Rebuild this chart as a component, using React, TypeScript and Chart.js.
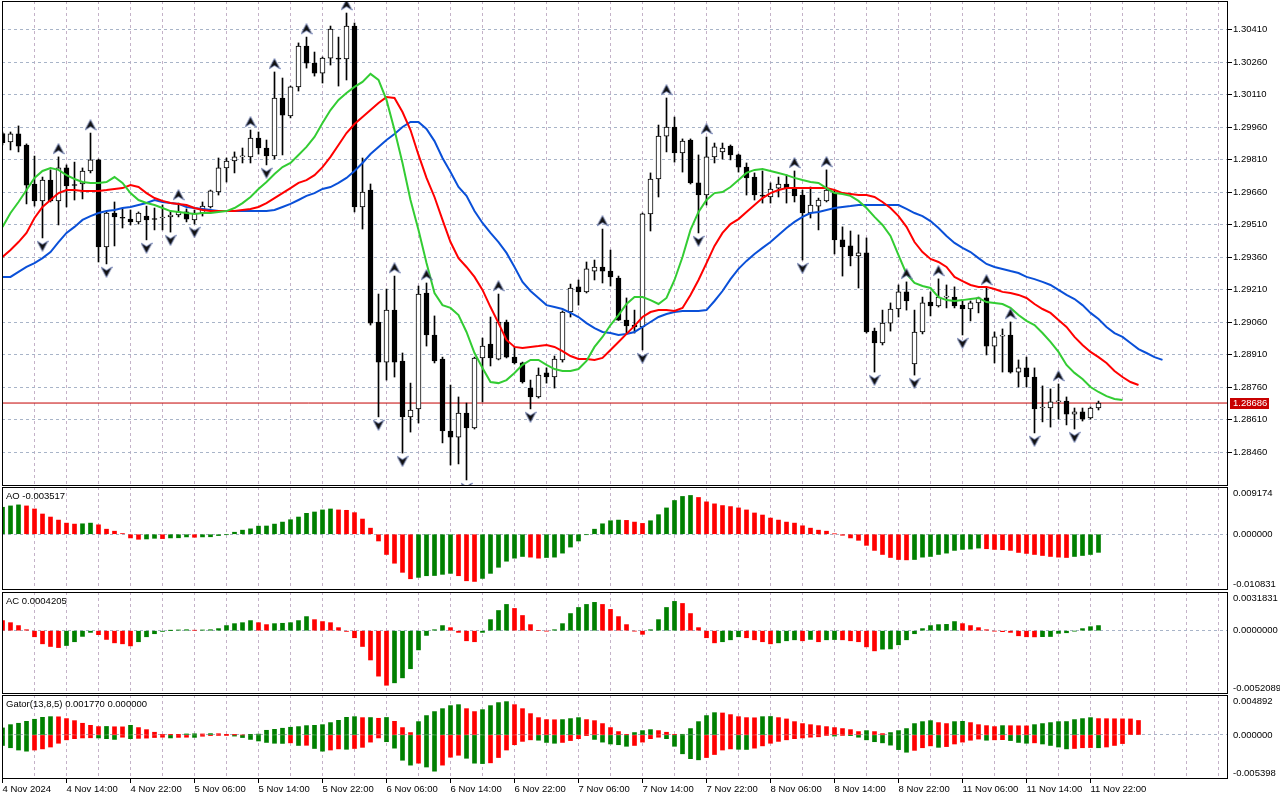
import React, { useEffect, useRef } from "react";
import { Chart, registerables } from "chart.js";

Chart.register(...registerables);

// ---------- DATA (GBPUSD H1, 4 Nov 06:00 .. 11 Nov 23:00) ----------
const timeLabels = [
  "4 Nov 2024", "4 Nov 14:00", "4 Nov 22:00", "5 Nov 06:00", "5 Nov 14:00", "5 Nov 22:00",
  "6 Nov 06:00", "6 Nov 14:00", "6 Nov 22:00", "7 Nov 06:00", "7 Nov 14:00", "7 Nov 22:00",
  "8 Nov 06:00", "8 Nov 14:00", "8 Nov 22:00", "11 Nov 06:00", "11 Nov 14:00", "11 Nov 22:00",
];

const priceTicks = [
  1.2846, 1.2861, 1.2876, 1.2891, 1.2906, 1.2921, 1.2936, 1.2951, 1.2966, 1.2981, 1.2996, 1.3011, 1.3026, 1.3041,
];
const priceRange = [1.2830308, 1.3054154];

const open = [
  1.29930, 1.29891, 1.29928, 1.29877, 1.29697, 1.29619, 1.29715, 1.29619, 1.29771, 1.29692,
  1.29697, 1.29757, 1.29808, 1.29406, 1.29563, 1.29540, 1.29535, 1.29522, 1.29549, 1.29535,
  1.29540, 1.29545, 1.29554, 1.29568, 1.29531, 1.29563, 1.29591, 1.29660, 1.29771, 1.29803,
  1.29822, 1.29822, 1.29909, 1.29863, 1.29826, 1.30094, 1.30011, 1.30145, 1.30334, 1.30255,
  1.30209, 1.30278, 1.30274, 1.30274, 1.30426, 1.29591, 1.29669, 1.29060, 1.28875, 1.29115,
  1.28880, 1.28622, 1.28659, 1.29194, 1.29000, 1.28889, 1.28557, 1.28529, 1.28640, 1.28571,
  1.28894, 1.28958, 1.28889, 1.29060, 1.28898, 1.28871, 1.28755, 1.28714, 1.28825, 1.28806,
  1.28885, 1.29106, 1.29222, 1.29199, 1.29295, 1.29314, 1.29295, 1.29263, 1.29069, 1.29046,
  1.29037, 1.29559, 1.29720, 1.29918, 1.29960, 1.29840, 1.29900, 1.29702, 1.29646, 1.29822,
  1.29845, 1.29872, 1.29831, 1.29775, 1.29729, 1.29642, 1.29637, 1.29678, 1.29697, 1.29678,
  1.29646, 1.29563, 1.29595, 1.29619, 1.29655, 1.29439, 1.29411, 1.29365, 1.29379, 1.29018,
  1.28963, 1.29055, 1.29120, 1.29199, 1.28866, 1.29014, 1.29152, 1.29134, 1.29175, 1.29175,
  1.29138, 1.29120, 1.29148, 1.29171, 1.28949, 1.28995, 1.29000, 1.28829, 1.28848, 1.28806,
  1.28663, 1.28663, 1.28691, 1.28695, 1.28635, 1.28645, 1.28617, 1.28663,
];
const high = [
  1.29937, 1.29937, 1.29965, 1.29882, 1.29826, 1.29729, 1.29762, 1.29822, 1.29785, 1.29798,
  1.29771, 1.29932, 1.29812, 1.29568, 1.29614, 1.29582, 1.29577, 1.29568, 1.29595, 1.29586,
  1.29600, 1.29572, 1.29609, 1.29582, 1.29577, 1.29614, 1.29669, 1.29817, 1.29817, 1.29845,
  1.29863, 1.29946, 1.29937, 1.29900, 1.30214, 1.30186, 1.30149, 1.30348, 1.30375, 1.30306,
  1.30283, 1.30426, 1.30375, 1.30486, 1.30440, 1.29817, 1.29697, 1.29189, 1.29212, 1.29272,
  1.28917, 1.28778, 1.29226, 1.29240, 1.29088, 1.28898, 1.28769, 1.28714, 1.28686, 1.28898,
  1.28986, 1.29083, 1.29189, 1.29069, 1.28945, 1.28875, 1.28792, 1.28848, 1.28848, 1.28903,
  1.29111, 1.29235, 1.29254, 1.29337, 1.29346, 1.29489, 1.29392, 1.29272, 1.29171, 1.29115,
  1.29563, 1.29748, 1.29969, 1.30094, 1.30006, 1.29905, 1.29905, 1.29831, 1.29914, 1.29886,
  1.29886, 1.29877, 1.29835, 1.29794, 1.29748, 1.29757, 1.29702, 1.29729, 1.29739, 1.29757,
  1.29669, 1.29683, 1.29632, 1.29762, 1.29669, 1.29499, 1.29480, 1.29462, 1.29448, 1.29032,
  1.29115, 1.29148, 1.29231, 1.29245, 1.29115, 1.29175, 1.29199, 1.29259, 1.29231, 1.29222,
  1.29157, 1.29157, 1.29175, 1.29217, 1.29014, 1.29028, 1.29060, 1.28885, 1.28898, 1.28848,
  1.28765, 1.28751, 1.28774, 1.28714, 1.28663, 1.28663, 1.28668, 1.28695,
];
const low = [
  1.29877, 1.29854, 1.29845, 1.29605, 1.29595, 1.29448, 1.29614, 1.29508, 1.29591, 1.29623,
  1.29628, 1.29748, 1.29337, 1.29328, 1.29411, 1.29494, 1.29508, 1.29512, 1.29439, 1.29485,
  1.29485, 1.29475, 1.29545, 1.29522, 1.29512, 1.29549, 1.29586, 1.29646, 1.29706, 1.29748,
  1.29794, 1.29794, 1.29835, 1.29785, 1.29812, 1.29831, 1.30002, 1.30126, 1.30232, 1.30195,
  1.30163, 1.30246, 1.30149, 1.30177, 1.29568, 1.29489, 1.29046, 1.28622, 1.28792, 1.28806,
  1.28455, 1.28552, 1.28594, 1.28949, 1.28871, 1.28502, 1.28400, 1.28405, 1.28331, 1.28566,
  1.28691, 1.28857, 1.28885, 1.28894, 1.28866, 1.28778, 1.28659, 1.28709, 1.28778, 1.28755,
  1.28875, 1.29083, 1.29138, 1.29194, 1.29254, 1.29240, 1.29226, 1.29067, 1.29009, 1.29009,
  1.28931, 1.29480, 1.29637, 1.29845, 1.29798, 1.29752, 1.29697, 1.29471, 1.29600, 1.29794,
  1.29812, 1.29808, 1.29752, 1.29646, 1.29623, 1.29609, 1.29609, 1.29637, 1.29609, 1.29614,
  1.29346, 1.29540, 1.29485, 1.29614, 1.29374, 1.29272, 1.29319, 1.29217, 1.29009, 1.28829,
  1.28954, 1.29018, 1.29083, 1.29115, 1.28815, 1.29005, 1.29088, 1.29129, 1.29125, 1.29125,
  1.29000, 1.29065, 1.29102, 1.28908, 1.28871, 1.28829, 1.28824, 1.28760, 1.28760, 1.28548,
  1.28599, 1.28575, 1.28612, 1.28585, 1.28566, 1.28603, 1.28612, 1.28654,
];
const close = [
  1.29888, 1.29928, 1.29872, 1.29692, 1.29619, 1.29715, 1.29619, 1.29771, 1.29688, 1.29690,
  1.29757, 1.29808, 1.29406, 1.29563, 1.29545, 1.29539, 1.29522, 1.29563, 1.29531, 1.29533,
  1.29541, 1.29554, 1.29568, 1.29535, 1.29563, 1.29595, 1.29665, 1.29771, 1.29803, 1.29822,
  1.29823, 1.29909, 1.29863, 1.29826, 1.30094, 1.30015, 1.30145, 1.30334, 1.30255, 1.30209,
  1.30278, 1.30412, 1.30273, 1.30426, 1.29591, 1.29660, 1.29055, 1.28875, 1.29115, 1.28875,
  1.28622, 1.28654, 1.29189, 1.29000, 1.28880, 1.28557, 1.28529, 1.28640, 1.28571, 1.28894,
  1.28949, 1.28894, 1.29060, 1.28898, 1.28871, 1.28783, 1.28714, 1.28815, 1.28806, 1.28889,
  1.29106, 1.29217, 1.29199, 1.29305, 1.29314, 1.29295, 1.29268, 1.29069, 1.29042, 1.29037,
  1.29559, 1.29720, 1.29918, 1.29960, 1.29840, 1.29895, 1.29702, 1.29646, 1.29822, 1.29868,
  1.29863, 1.29831, 1.29775, 1.29725, 1.29646, 1.29641, 1.29674, 1.29697, 1.29678, 1.29642,
  1.29563, 1.29600, 1.29623, 1.29669, 1.29439, 1.29406, 1.29365, 1.29379, 1.29014, 1.28963,
  1.29055, 1.29120, 1.29199, 1.29157, 1.29014, 1.29148, 1.29134, 1.29175, 1.29176, 1.29134,
  1.29120, 1.29148, 1.29171, 1.28949, 1.28991, 1.28996, 1.28829, 1.28848, 1.28806, 1.28659,
  1.28664, 1.28691, 1.28693, 1.28635, 1.28645, 1.28612, 1.28663, 1.28686,
];

// Alligator (already shifted forward: jaw +8, teeth +5, lips +3)
const alligatorJaw = [
  1.29268, 1.29268, 1.29291, 1.29314, 1.29332, 1.29355, 1.29383, 1.29429, 1.29471, 1.29499,
  1.29531, 1.29549, 1.29563, 1.29572, 1.29577, 1.29586, 1.29591, 1.29600, 1.29609, 1.29623,
  1.29614, 1.29609, 1.29605, 1.29591, 1.29586, 1.29582, 1.29577, 1.29572, 1.29572, 1.29572,
  1.29572, 1.29572, 1.29572, 1.29572, 1.29577, 1.29591, 1.29605, 1.29623, 1.29642, 1.29655,
  1.29674, 1.29683, 1.29702, 1.29725, 1.29757, 1.29794, 1.29835, 1.29868, 1.29900, 1.29928,
  1.29960, 1.29983, 1.29983, 1.29951, 1.29895, 1.29817, 1.29752, 1.29683, 1.29642, 1.29572,
  1.29517, 1.29471, 1.29429, 1.29379, 1.29314, 1.29245, 1.29203, 1.29171, 1.29138, 1.29129,
  1.29120, 1.29102, 1.29083, 1.29055, 1.29032, 1.29014, 1.29009, 1.29000, 1.29005, 1.29014,
  1.29037, 1.29060, 1.29083, 1.29097, 1.29106, 1.29111, 1.29111, 1.29111, 1.29115, 1.29157,
  1.29203, 1.29258, 1.29305, 1.29342, 1.29374, 1.29402, 1.29429, 1.29462, 1.29494, 1.29522,
  1.29545, 1.29563, 1.29568, 1.29577, 1.29586, 1.29591, 1.29595, 1.29600, 1.29600, 1.29600,
  1.29600, 1.29600, 1.29600, 1.29582, 1.29563, 1.29549, 1.29526, 1.29494, 1.29457, 1.29425,
  1.29402, 1.29383, 1.29355, 1.29328, 1.29314, 1.29305, 1.29295, 1.29286, 1.29268, 1.29258,
  1.29245, 1.29231, 1.29208, 1.29185, 1.29166, 1.29138, 1.29102, 1.29074, 1.29037, 1.29009,
  1.28991, 1.28963, 1.28935, 1.28917, 1.28898, 1.28885,
];
const alligatorTeeth = [
  1.29360, 1.29392, 1.29429, 1.29471, 1.29540, 1.29591, 1.29623, 1.29655, 1.29669, 1.29669,
  1.29665, 1.29665, 1.29665, 1.29669, 1.29674, 1.29678, 1.29692, 1.29683, 1.29655, 1.29632,
  1.29619, 1.29609, 1.29605, 1.29600, 1.29586, 1.29577, 1.29572, 1.29572, 1.29572, 1.29572,
  1.29577, 1.29582, 1.29591, 1.29609, 1.29632, 1.29655, 1.29678, 1.29702, 1.29715, 1.29738,
  1.29775, 1.29822, 1.29877, 1.29932, 1.29974, 1.30006, 1.30038, 1.30071, 1.30098, 1.30094,
  1.30029, 1.29946, 1.29831, 1.29725, 1.29637, 1.29531, 1.29429, 1.29355, 1.29314, 1.29268,
  1.29208, 1.29129, 1.29055, 1.28977, 1.28945, 1.28940, 1.28945, 1.28949, 1.28954, 1.28945,
  1.28926, 1.28903, 1.28889, 1.28889, 1.28885, 1.28894, 1.28931, 1.28968, 1.29005, 1.29042,
  1.29083, 1.29106, 1.29115, 1.29115, 1.29111, 1.29125, 1.29185, 1.29254, 1.29332, 1.29411,
  1.29471, 1.29512, 1.29535, 1.29568, 1.29600, 1.29632, 1.29655, 1.29669, 1.29678, 1.29678,
  1.29678, 1.29678, 1.29678, 1.29678, 1.29669, 1.29655, 1.29651, 1.29646, 1.29646, 1.29637,
  1.29614, 1.29586, 1.29549, 1.29499, 1.29429, 1.29383, 1.29351, 1.29337, 1.29314, 1.29268,
  1.29249, 1.29231, 1.29222, 1.29222, 1.29212, 1.29199, 1.29194, 1.29185, 1.29171, 1.29143,
  1.29120, 1.29102, 1.29069, 1.29037, 1.28991, 1.28954, 1.28922, 1.28898, 1.28871, 1.28834,
  1.28806, 1.28783, 1.28769,
];
const alligatorLips = [
  1.29499, 1.29563, 1.29614, 1.29669, 1.29725, 1.29757, 1.29771, 1.29762, 1.29738, 1.29720,
  1.29706, 1.29702, 1.29702, 1.29706, 1.29729, 1.29702, 1.29655, 1.29623, 1.29609, 1.29600,
  1.29586, 1.29572, 1.29568, 1.29563, 1.29559, 1.29563, 1.29563, 1.29568, 1.29572, 1.29586,
  1.29609, 1.29637, 1.29674, 1.29706, 1.29743, 1.29775, 1.29794, 1.29831, 1.29868, 1.29914,
  1.29978, 1.30038, 1.30085, 1.30117, 1.30145, 1.30168, 1.30205, 1.30177, 1.30085, 1.29946,
  1.29794, 1.29623, 1.29485, 1.29332, 1.29194, 1.29138, 1.29125, 1.29092, 1.29014, 1.28917,
  1.28848, 1.28783, 1.28778, 1.28792, 1.28825, 1.28862, 1.28885, 1.28885, 1.28862, 1.28843,
  1.28834, 1.28834, 1.28843, 1.28880, 1.28945, 1.28991, 1.29046, 1.29092, 1.29143, 1.29175,
  1.29175, 1.29161, 1.29143, 1.29171, 1.29254, 1.29360, 1.29485, 1.29568, 1.29623, 1.29655,
  1.29660, 1.29683, 1.29715, 1.29748, 1.29762, 1.29766, 1.29757, 1.29748, 1.29738, 1.29725,
  1.29715, 1.29706, 1.29702, 1.29678, 1.29655, 1.29651, 1.29642, 1.29619, 1.29586, 1.29545,
  1.29508, 1.29457, 1.29369, 1.29282, 1.29240, 1.29226, 1.29217, 1.29175, 1.29161, 1.29157,
  1.29161, 1.29166, 1.29171, 1.29152, 1.29148, 1.29143, 1.29125, 1.29092, 1.29065, 1.29046,
  1.29009, 1.28968, 1.28922, 1.28862, 1.28825, 1.28797, 1.28760, 1.28737, 1.28718, 1.28705,
  1.28700,
];

const fractalUp = [7, 11, 22, 31, 34, 38, 43, 49, 53, 62, 75, 83, 88, 99, 103, 113, 117, 123, 126, 132];
const fractalDown = [5, 13, 18, 21, 24, 33, 47, 50, 58, 66, 80, 87, 100, 109, 114, 120, 129, 134];

const aoValues = [
  0.00524, 0.00550, 0.00570, 0.00550, 0.00491, 0.00393, 0.00334, 0.00275, 0.00216, 0.00197,
  0.00203, 0.00216, 0.00183, 0.00098, 0.00059, 0.00013, -0.00072, -0.00098, -0.00092, -0.00079,
  -0.00085, -0.00072, -0.00069, -0.00052, -0.00059, -0.00052, -0.00049, -0.00026, -0.00007, 0.00039,
  0.00079, 0.00105, 0.00157, 0.00160, 0.00197, 0.00236, 0.00282, 0.00334, 0.00406, 0.00432,
  0.00472, 0.00491, 0.00472, 0.00465, 0.00419, 0.00295, 0.00118, -0.00131, -0.00393, -0.00563,
  -0.00740, -0.00865, -0.00838, -0.00806, -0.00802, -0.00779, -0.00760, -0.00806, -0.00904, -0.00917,
  -0.00858, -0.00760, -0.00642, -0.00524, -0.00465, -0.00432, -0.00445, -0.00465, -0.00452, -0.00445,
  -0.00367, -0.00249, -0.00131, -0.00007, 0.00098, 0.00203, 0.00262, 0.00275, 0.00269, 0.00236,
  0.00210, 0.00262, 0.00380, 0.00511, 0.00655, 0.00734, 0.00753, 0.00714, 0.00629, 0.00590,
  0.00557, 0.00537, 0.00511, 0.00472, 0.00413, 0.00373, 0.00314, 0.00275, 0.00236, 0.00216,
  0.00164, 0.00118, 0.00079, 0.00059, 0.00007, -0.00020, -0.00072, -0.00118, -0.00216, -0.00314,
  -0.00393, -0.00452, -0.00491, -0.00498, -0.00491, -0.00445, -0.00432, -0.00393, -0.00367, -0.00314,
  -0.00295, -0.00288, -0.00269, -0.00282, -0.00295, -0.00301, -0.00314, -0.00354, -0.00373, -0.00393,
  -0.00413, -0.00432, -0.00445, -0.00452, -0.00432, -0.00413, -0.00393, -0.003517,
];
const aoRange = [-0.010831, 0.009174];

const acValues = [
  0.00083, 0.00066, 0.00042, 0.00008, -0.00050, -0.00108, -0.00130, -0.00139, -0.00122, -0.00091,
  -0.00047, -0.00014, -0.00033, -0.00072, -0.00100, -0.00108, -0.00125, -0.00091, -0.00050, -0.00025,
  -0.00006, 0.00001, 0.00006, 0.00008, 0.00003, 0.00006, 0.00008, 0.00017, 0.00042, 0.00058,
  0.00066, 0.00083, 0.00066, 0.00050, 0.00058, 0.00061, 0.00066, 0.00083, 0.00116, 0.00091,
  0.00075, 0.00066, 0.00025, -0.00006, -0.00058, -0.00130, -0.00241, -0.00374, -0.00449, -0.00429,
  -0.00388, -0.00313, -0.00158, -0.00039, 0.00008, 0.00042, 0.00025, -0.00014, -0.00083, -0.00091,
  -0.00014, 0.00091, 0.00166, 0.00216, 0.00183, 0.00125, 0.00050, 0.00000, -0.00003, 0.00008,
  0.00058, 0.00141, 0.00191, 0.00216, 0.00233, 0.00216, 0.00175, 0.00116, 0.00050, -0.00003,
  -0.00030, 0.00008, 0.00091, 0.00191, 0.00241, 0.00224, 0.00141, 0.00025, -0.00058, -0.00100,
  -0.00091, -0.00075, -0.00050, -0.00058, -0.00075, -0.00091, -0.00108, -0.00100, -0.00083, -0.00075,
  -0.00083, -0.00072, -0.00091, -0.00075, -0.00073, -0.00075, -0.00083, -0.00091, -0.00133, -0.00166,
  -0.00152, -0.00150, -0.00116, -0.00075, -0.00025, 0.00017, 0.00042, 0.00050, 0.00052, 0.00075,
  0.00058, 0.00042, 0.00025, 0.00008, -0.00003, -0.00008, -0.00014, -0.00042, -0.00050, -0.00051,
  -0.00049, -0.00048, -0.00022, -0.00017, -0.00003, 0.00017, 0.00033, 0.0004205,
];
const acRange = [-0.0052089, 0.0031831];

const gatorUpper = [
  0.00086, 0.00126, 0.00143, 0.00167, 0.00192, 0.00216, 0.00224, 0.00222, 0.00200, 0.00175,
  0.00143, 0.00118, 0.00102, 0.00104, 0.00100, 0.00099, 0.00118, 0.00090, 0.00065, 0.00033,
  0.00004, 0.00002, 0.00001, 0.00012, 0.00014, 0.00012, 0.00016, 0.00015, 0.00002, 0.00001,
  0.00000, 0.00002, 0.00010, 0.00057, 0.00069, 0.00082, 0.00094, 0.00102, 0.00114, 0.00118,
  0.00126, 0.00151, 0.00179, 0.00216, 0.00224, 0.00212, 0.00213, 0.00204, 0.00214, 0.00167,
  0.00090, 0.00029, 0.00163, 0.00237, 0.00286, 0.00322, 0.00359, 0.00371, 0.00322, 0.00286,
  0.00310, 0.00359, 0.00396, 0.00408, 0.00371, 0.00322, 0.00261, 0.00212, 0.00188, 0.00186,
  0.00188, 0.00200, 0.00212, 0.00188, 0.00175, 0.00139, 0.00090, 0.00041, 0.00004, 0.00029,
  0.00053, 0.00065, 0.00053, 0.00033, 0.00004, 0.00008, 0.00078, 0.00163, 0.00237, 0.00273,
  0.00269, 0.00249, 0.00224, 0.00212, 0.00210, 0.00224, 0.00226, 0.00212, 0.00196, 0.00163,
  0.00139, 0.00126, 0.00114, 0.00102, 0.00090, 0.00078, 0.00065, 0.00041, 0.00053, 0.00041,
  0.00016, 0.00029, 0.00053, 0.00078, 0.00139, 0.00163, 0.00175, 0.00151, 0.00139, 0.00163,
  0.00167, 0.00151, 0.00126, 0.00114, 0.00102, 0.00114, 0.00113, 0.00112, 0.00111, 0.00126,
  0.00139, 0.00151, 0.00163, 0.00164, 0.00188, 0.00200, 0.00212, 0.00200, 0.00199, 0.00198,
  0.00197, 0.00196, 0.00177,
];
const gatorLower = [
  -0.00129, -0.00157, -0.00185, -0.00199, -0.00185, -0.00171, -0.00148, -0.00102, -0.00060, -0.00046,
  -0.00037, -0.00035, -0.00037, -0.00046, -0.00055, -0.00028, -0.00046, -0.00042, -0.00039, -0.00032,
  -0.00028, -0.00037, -0.00030, -0.00028, -0.00030, -0.00016, -0.00009, -0.00005, -0.00001, -0.00014,
  -0.00032, -0.00055, -0.00074, -0.00092, -0.00102, -0.00104, -0.00097, -0.00129, -0.00127, -0.00166,
  -0.00199, -0.00185, -0.00171, -0.00176, -0.00166, -0.00152, -0.00088, -0.00037, -0.00083, -0.00162,
  -0.00310, -0.00370, -0.00346, -0.00393, -0.00444, -0.00370, -0.00273, -0.00249, -0.00286, -0.00346,
  -0.00351, -0.00342, -0.00277, -0.00185, -0.00120, -0.00079, -0.00060, -0.00065, -0.00092, -0.00102,
  -0.00092, -0.00069, -0.00046, -0.00009, -0.00055, -0.00088, -0.00111, -0.00120, -0.00139, -0.00129,
  -0.00088, -0.00046, -0.00028, -0.00046, -0.00139, -0.00231, -0.00291, -0.00305, -0.00277, -0.00240,
  -0.00185, -0.00171, -0.00176, -0.00178, -0.00162, -0.00134, -0.00102, -0.00079, -0.00060, -0.00046,
  -0.00037, -0.00028, -0.00023, -0.00002, -0.00014, -0.00005, -0.00009, -0.00028, -0.00060, -0.00083,
  -0.00097, -0.00125, -0.00180, -0.00212, -0.00189, -0.00157, -0.00134, -0.00152, -0.00143, -0.00111,
  -0.00088, -0.00065, -0.00051, -0.00065, -0.00060, -0.00058, -0.00069, -0.00092, -0.00102, -0.00097,
  -0.00111, -0.00129, -0.00148, -0.00171, -0.00166, -0.00157, -0.00155, -0.00157, -0.00148, -0.00129,
  -0.00106,
];
const gatorRange = [-0.005398, 0.004892];

// ---------- STYLE ----------
const FONT_FAMILY = '"Liberation Sans", Arial, sans-serif';
const FONT_SIZE = 9.5;
const FONT = { family: FONT_FAMILY, size: FONT_SIZE };
const GREEN = "#008000";
const RED = "#ff0000";
const V_GRID = "rgb(196,178,200)";
const H_GRID = "rgb(168,180,200)";
const X_MIN = -0.0625;
const X_MAX = 153.1875;
const AXIS_W = 52;
const W = 1280;
const gridTicks = Array.from({ length: 39 }, (_, k) => k * 4);

const labelAt = (v: number) =>
  v % 8 === 0 && v / 8 < timeLabels.length ? timeLabels[v / 8] : "";

function trendColors(values: number[], firstUp: boolean, magnitude = false) {
  return values.map((v, i) => {
    if (i === 0) return firstUp ? GREEN : RED;
    const a = magnitude ? Math.abs(v) : v;
    const b = magnitude ? Math.abs(values[i - 1]) : values[i - 1];
    return a > b ? GREEN : RED;
  });
}

function makeArrow(up: boolean) {
  const c = document.createElement("canvas");
  c.width = 12;
  c.height = 28;
  const g = c.getContext("2d")!;
  const pts = up
    ? [[6, 0.5], [11.5, 11], [6, 7.5], [0.5, 11]]
    : [[6, 27.5], [11.5, 17], [6, 20.5], [0.5, 17]];
  g.beginPath();
  g.moveTo(pts[0][0], pts[0][1]);
  for (let k = 1; k < pts.length; k++) g.lineTo(pts[k][0], pts[k][1]);
  g.closePath();
  g.fillStyle = "#111";
  g.fill();
  g.strokeStyle = "rgba(110,130,190,0.9)";
  g.lineWidth = 0.8;
  g.stroke();
  return c;
}

function xScale(withLabels: boolean): any {
  return {
    type: "linear",
    min: X_MIN,
    max: X_MAX,
    offset: false,
    afterBuildTicks: (s: any) => {
      s.ticks = gridTicks.map((v) => ({ value: v }));
    },
    afterFit: (s: any) => {
      s.height = withLabels ? 21 : 0;
      s.paddingLeft = 0;
      s.paddingRight = 0;
    },
    grid: {
      display: true,
      offset: false,
      color: V_GRID,
      lineWidth: 1,
      drawTicks: withLabels,
      tickLength: 4,
      tickWidth: 1,
      tickBorderDash: [],
      tickColor: (c: any) => (c.tick && labelAt(c.tick.value) ? "#000" : "rgba(0,0,0,0)"),
    },
    border: { display: false, dash: [3, 3] },
    ticks: {
      display: withLabels,
      autoSkip: false,
      maxRotation: 0,
      minRotation: 0,
      align: "start",
      padding: 1,
      color: "#000",
      font: FONT,
      callback: (v: any) => labelAt(Number(v)),
    },
  };
}

function subY(range: number[]): any {
  return {
    type: "linear",
    position: "right",
    min: range[0],
    max: range[1],
    beginAtZero: false,
    afterBuildTicks: (s: any) => {
      s.ticks = [{ value: 0 }];
    },
    afterFit: (s: any) => {
      s.width = AXIS_W;
      s.paddingTop = 0;
      s.paddingBottom = 0;
    },
    grid: { color: H_GRID, drawTicks: false },
    border: { display: false, dash: [3, 3] },
    ticks: { display: false },
  };
}

function paneDecor(title: string, labels: { value: number; text: string }[]) {
  return {
    id: "paneDecor",
    afterDraw(chart: any) {
      const { ctx, chartArea: a } = chart;
      const ys = chart.scales.y;
      ctx.save();
      ctx.setLineDash([]);
      ctx.strokeStyle = "#000";
      ctx.lineWidth = 1;
      ctx.strokeRect(a.left + 0.5, a.top + 0.5, a.right - a.left - 1, a.bottom - a.top - 1);
      ctx.fillStyle = "#000";
      ctx.font = `${FONT_SIZE}px ${FONT_FAMILY}`;
      ctx.textBaseline = "middle";
      ctx.textAlign = "left";
      if (title) ctx.fillText(title, a.left + 4, a.top + 9);
      labels.forEach((l) => {
        const y = Math.min(Math.max(ys.getPixelForValue(l.value), a.top + 6), a.bottom - 6);
        ctx.fillText(l.text, a.right + 5, y);
      });
      ctx.restore();
    },
  };
}

const lastPriceTag = {
  id: "lastPriceTag",
  afterDraw(chart: any) {
    const { ctx, chartArea: a } = chart;
    const last = close[close.length - 1];
    const y = chart.scales.y.getPixelForValue(last);
    ctx.save();
    ctx.fillStyle = "#c80000";
    ctx.fillRect(a.right + 2, Math.floor(y) - 5, 39, 11);
    ctx.fillStyle = "#fff";
    ctx.font = `${FONT_SIZE}px ${FONT_FAMILY}`;
    ctx.textBaseline = "middle";
    ctx.textAlign = "left";
    ctx.fillText(last.toFixed(5), a.right + 5, y);
    ctx.restore();
  },
};

const baseOptions = (padding: any) => ({
  responsive: false,
  maintainAspectRatio: false,
  devicePixelRatio: 1,
  animation: false as const,
  events: [] as any[],
  layout: { padding, autoPadding: false },
  plugins: { legend: { display: false }, tooltip: { enabled: false }, title: { display: false } },
});

function mainConfig(): any {
  const n = close.length;
  const last = close[n - 1];
  const bodyColors = close.map((c, i) => (c > open[i] ? "#ffffff" : "#000000"));
  const line = (vals: number[], color: string, order: number) => ({
    type: "line",
    data: vals.map((v, i) => ({ x: i, y: v })),
    borderColor: color,
    borderWidth: 2,
    pointRadius: 0,
    tension: 0,
    fill: false,
    order,
  });
  return {
    type: "bar",
    data: {
      datasets: [
        {
          type: "line",
          data: [
            { x: X_MIN, y: last },
            { x: X_MAX, y: last },
          ],
          borderColor: "rgb(196,0,0)",
          borderWidth: 1,
          pointRadius: 0,
          order: 10,
        },
        {
          type: "bar",
          data: close.map((_, i) => ({ x: i, y: [low[i], high[i]] })),
          backgroundColor: "#000",
          borderWidth: 0,
          grouped: false,
          barThickness: 1,
          maxBarThickness: 1,
          order: 9,
        },
        {
          type: "bar",
          data: close.map((c, i) => ({ x: i, y: [open[i], c] })),
          backgroundColor: bodyColors,
          borderColor: "#000",
          borderWidth: 1,
          borderSkipped: false,
          grouped: false,
          barThickness: 5,
          maxBarThickness: 5,
          minBarLength: 1,
          order: 8,
        },
        line(alligatorJaw, "#0a50d8", 3),
        line(alligatorTeeth, "#ff0000", 2),
        line(alligatorLips, "#33cc33", 1),
        {
          type: "scatter",
          data: fractalUp.map((i) => ({ x: i, y: high[i] })),
          pointStyle: makeArrow(true),
          pointRadius: 5,
          order: 0,
        },
        {
          type: "scatter",
          data: fractalDown.map((i) => ({ x: i, y: low[i] })),
          pointStyle: makeArrow(false),
          pointRadius: 5,
          order: 0,
        },
      ],
    },
    options: {
      ...baseOptions({ left: 2, right: 0, top: 1, bottom: 1 }),
      scales: {
        x: xScale(false),
        y: {
          type: "linear",
          position: "right",
          min: priceRange[0],
          max: priceRange[1],
          beginAtZero: false,
          afterBuildTicks: (s: any) => {
            s.ticks = priceTicks.map((v) => ({ value: v }));
          },
          afterFit: (s: any) => {
            s.width = AXIS_W;
            s.paddingTop = 0;
            s.paddingBottom = 0;
          },
          grid: { color: H_GRID, drawTicks: true, tickLength: 4, tickColor: "#000", tickBorderDash: [] },
          border: { display: false, dash: [3, 3] },
          ticks: { color: "#000", padding: 1, font: FONT, callback: (v: any) => Number(v).toFixed(5) },
        },
      },
    },
    plugins: [paneDecor("", []), lastPriceTag],
  };
}

function histConfig(values: number[], firstUp: boolean, range: number[], title: string, digits: number, padding: any): any {
  const labels = [range[1], 0, range[0]].map((v) => ({ value: v, text: v.toFixed(digits) }));
  return {
    type: "bar",
    data: {
      datasets: [
        {
          type: "bar",
          data: values.map((v, i) => ({ x: i, y: v })),
          backgroundColor: trendColors(values, firstUp),
          borderWidth: 0,
          grouped: false,
          barThickness: 4,
          maxBarThickness: 4,
        },
      ],
    },
    options: {
      ...baseOptions(padding),
      scales: { x: xScale(false), y: subY(range) },
    },
    plugins: [paneDecor(title, labels)],
  };
}

function gatorConfig(): any {
  const labels = [gatorRange[1], 0, gatorRange[0]].map((v) => ({ value: v, text: v.toFixed(6) }));
  const title = `Gator(13,8,5) ${gatorUpper[gatorUpper.length - 1].toFixed(6)} ${(0).toFixed(6)}`;
  return {
    type: "bar",
    data: {
      datasets: [
        {
          type: "bar",
          data: gatorUpper.map((v, i) => ({ x: i, y: v })),
          backgroundColor: trendColors(gatorUpper, true),
          borderWidth: 0,
          grouped: false,
          barThickness: 4,
          maxBarThickness: 4,
        },
        {
          type: "bar",
          data: gatorLower.map((v, i) => ({ x: i, y: v })),
          backgroundColor: trendColors(gatorLower, true, true),
          borderWidth: 0,
          grouped: false,
          barThickness: 4,
          maxBarThickness: 4,
        },
      ],
    },
    options: {
      ...baseOptions({ left: 2, right: 0, top: 1, bottom: 0 }),
      scales: { x: xScale(true), y: subY(gatorRange) },
    },
    plugins: [paneDecor(title, labels)],
  };
}

export default function App() {
  const mainRef = useRef<HTMLCanvasElement>(null);
  const aoRef = useRef<HTMLCanvasElement>(null);
  const acRef = useRef<HTMLCanvasElement>(null);
  const gatorRef = useRef<HTMLCanvasElement>(null);

  useEffect(() => {
    const charts: Chart[] = [];
    charts.push(new Chart(mainRef.current!, mainConfig()));
    charts.push(
      new Chart(
        aoRef.current!,
        histConfig(aoValues, true, aoRange, `AO ${aoValues[aoValues.length - 1].toFixed(6)}`, 6, { left: 2, right: 0, top: 0, bottom: 0 })
      )
    );
    charts.push(
      new Chart(
        acRef.current!,
        histConfig(acValues, false, acRange, `AC ${acValues[acValues.length - 1].toFixed(7)}`, 7, { left: 2, right: 0, top: 0, bottom: 0 })
      )
    );
    charts.push(new Chart(gatorRef.current!, gatorConfig()));
    return () => charts.forEach((c) => c.destroy());
  }, []);

  const pos = (top: number): React.CSSProperties => ({ position: "absolute", left: 0, top, display: "block" });

  return (
    <div style={{ position: "absolute", left: 0, top: 0, width: W, height: 800, background: "#fff", overflow: "hidden" }}>
      <canvas ref={mainRef} width={W} height={487} style={pos(0)} />
      <canvas ref={aoRef} width={W} height={103} style={pos(487)} />
      <canvas ref={acRef} width={W} height={102} style={pos(592)} />
      <canvas ref={gatorRef} width={W} height={106} style={pos(694)} />
    </div>
  );
}
